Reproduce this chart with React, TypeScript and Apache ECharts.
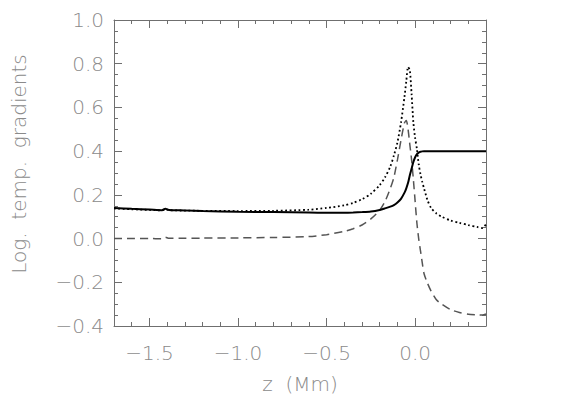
import React, { useEffect, useRef } from "react";
import * as echarts from "echarts";

const zValues = [-1.7, -1.6, -1.5, -1.43, -1.41, -1.39, -1.3, -1.2, -1.0, -0.8, -0.6, -0.5, -0.4, -0.35, -0.3, -0.25, -0.2, -0.17, -0.14, -0.12, -0.1, -0.08, -0.06, -0.05, -0.04, -0.03, -0.02, -0.01, 0.0, 0.01, 0.02, 0.03, 0.04, 0.05, 0.07, 0.09, 0.12, 0.15, 0.2, 0.25, 0.3, 0.35, 0.38, 0.4];

const solidValues = [0.14, 0.136, 0.133, 0.13, 0.136, 0.131, 0.129, 0.126, 0.123, 0.121, 0.119, 0.118, 0.118, 0.119, 0.121, 0.124, 0.131, 0.138, 0.146, 0.153, 0.165, 0.182, 0.21, 0.23, 0.255, 0.29, 0.32, 0.35, 0.372, 0.386, 0.393, 0.397, 0.399, 0.4, 0.4, 0.4, 0.4, 0.4, 0.4, 0.4, 0.4, 0.4, 0.4, 0.4];

const dottedValues = [0.138, 0.134, 0.131, 0.129, 0.134, 0.13, 0.128, 0.127, 0.126, 0.127, 0.132, 0.14, 0.152, 0.163, 0.18, 0.205, 0.245, 0.28, 0.33, 0.38, 0.44, 0.53, 0.65, 0.72, 0.785, 0.77, 0.66, 0.53, 0.46, 0.41, 0.34, 0.295, 0.26, 0.23, 0.175, 0.14, 0.115, 0.1, 0.083, 0.072, 0.062, 0.053, 0.048, 0.065];

const dashedValues = [0.0, 0.0, 0.0, -0.001, 0.006, 0.001, 0.001, 0.002, 0.003, 0.005, 0.009, 0.018, 0.033, 0.045, 0.062, 0.09, 0.13, 0.17, 0.23, 0.28, 0.36, 0.45, 0.53, 0.54, 0.5, 0.43, 0.36, 0.27, 0.17, 0.07, 0.0, -0.055, -0.11, -0.16, -0.205, -0.24, -0.28, -0.3, -0.325, -0.338, -0.346, -0.349, -0.35, -0.345];

const xMajorTicks = [-1.5, -1.0, -0.5, 0.0];
const xMinorTicks = [-1.6, -1.4, -1.3, -1.2, -1.1, -0.9, -0.8, -0.7, -0.6, -0.4, -0.3, -0.2, -0.1, 0.1, 0.2, 0.3];

const xTitle = "z  (Mm)";
const yTitle = "Log.  temp.  gradients";

const fmt = (v: number) => (v < 0 ? "\u2212" : "") + Math.abs(v).toFixed(1);

const FONT = "DejaVu Sans";
const LABEL_COLOR = "#8a8a8a";
const AXIS_COLOR = "#6f6f6f";

export default function App() {
  const ref = useRef<HTMLDivElement>(null);
  useEffect(() => {
    document.body.style.margin = "0";
    if (!ref.current) return;
    const chart = echarts.init(ref.current, null, { renderer: "svg" });
    const pair = (a: number[]) => zValues.map((z, i) => [z, a[i]]);
    const baseX = (position: "top" | "bottom", major: boolean, labels: boolean) => ({
      type: "value" as const,
      position,
      min: -1.7,
      max: 0.4,
      splitLine: { show: false },
      axisLine: { show: major, onZero: false, lineStyle: { color: AXIS_COLOR, width: 1 } },
      axisTick: {
        show: true,
        inside: true,
        length: major ? 8 : 4,
        customValues: major ? xMajorTicks : xMinorTicks,
        lineStyle: { color: AXIS_COLOR, width: 1 },
      },
      axisLabel: labels
        ? {
            show: true,
            customValues: xMajorTicks,
            formatter: fmt,
            fontFamily: FONT,
            fontWeight: 200,
            fontSize: 20,
            color: LABEL_COLOR,
            margin: 17,
          }
        : { show: false },
      ...(labels
        ? {
            name: xTitle,
            nameLocation: "middle" as const,
            nameGap: 48,
            nameTextStyle: { fontFamily: FONT, fontWeight: 200, fontSize: 20, color: LABEL_COLOR },
          }
        : {}),
    });
    const baseY = (position: "left" | "right", labels: boolean) => ({
      type: "value" as const,
      position,
      min: -0.4,
      max: 1.0,
      interval: 0.2,
      splitLine: { show: false },
      axisLine: { show: true, onZero: false, lineStyle: { color: AXIS_COLOR, width: 1 } },
      axisTick: { show: true, inside: true, length: 8, lineStyle: { color: AXIS_COLOR, width: 1 } },
      minorTick: { show: true, splitNumber: 4, length: 4, lineStyle: { color: AXIS_COLOR, width: 1 } },
      minorSplitLine: { show: false },
      axisLabel: labels
        ? { show: true, formatter: fmt, fontFamily: FONT, fontWeight: 200, fontSize: 20, color: LABEL_COLOR, margin: 10 }
        : { show: false },
      ...(labels
        ? {
            name: yTitle,
            nameLocation: "middle" as const,
            nameGap: 85,
            nameTextStyle: {
              fontFamily: FONT,
              fontWeight: 200,
              fontSize: 20,
              color: LABEL_COLOR,
              padding: [0, 0, 0, 18],
            },
          }
        : {}),
    });
    chart.setOption({
      animation: false,
      backgroundColor: "#ffffff",
      grid: { left: 114, top: 20, width: 372, height: 306, containLabel: false },
      xAxis: [
        baseX("bottom", true, true),
        baseX("bottom", false, false),
        baseX("top", true, false),
        baseX("top", false, false),
      ],
      yAxis: [baseY("left", true), baseY("right", false)],
      series: [
        {
          type: "line",
          name: "solid",
          data: pair(solidValues),
          showSymbol: false,
          smooth: 0.25,
          lineStyle: { color: "#000000", width: 2 },
          z: 3,
        },
        {
          type: "line",
          name: "dotted",
          data: pair(dottedValues),
          showSymbol: false,
          smooth: 0.25,
          lineStyle: { color: "#000000", width: 1.8, type: [1.8, 2.6] },
          z: 2,
        },
        {
          type: "line",
          name: "dashed",
          data: pair(dashedValues),
          showSymbol: false,
          smooth: 0.25,
          lineStyle: { color: "#555555", width: 1.5, type: [8, 5] },
          z: 1,
        },
      ],
    });
    return () => chart.dispose();
  }, []);
  return <div ref={ref} style={{ width: 572, height: 409 }} />;
}
